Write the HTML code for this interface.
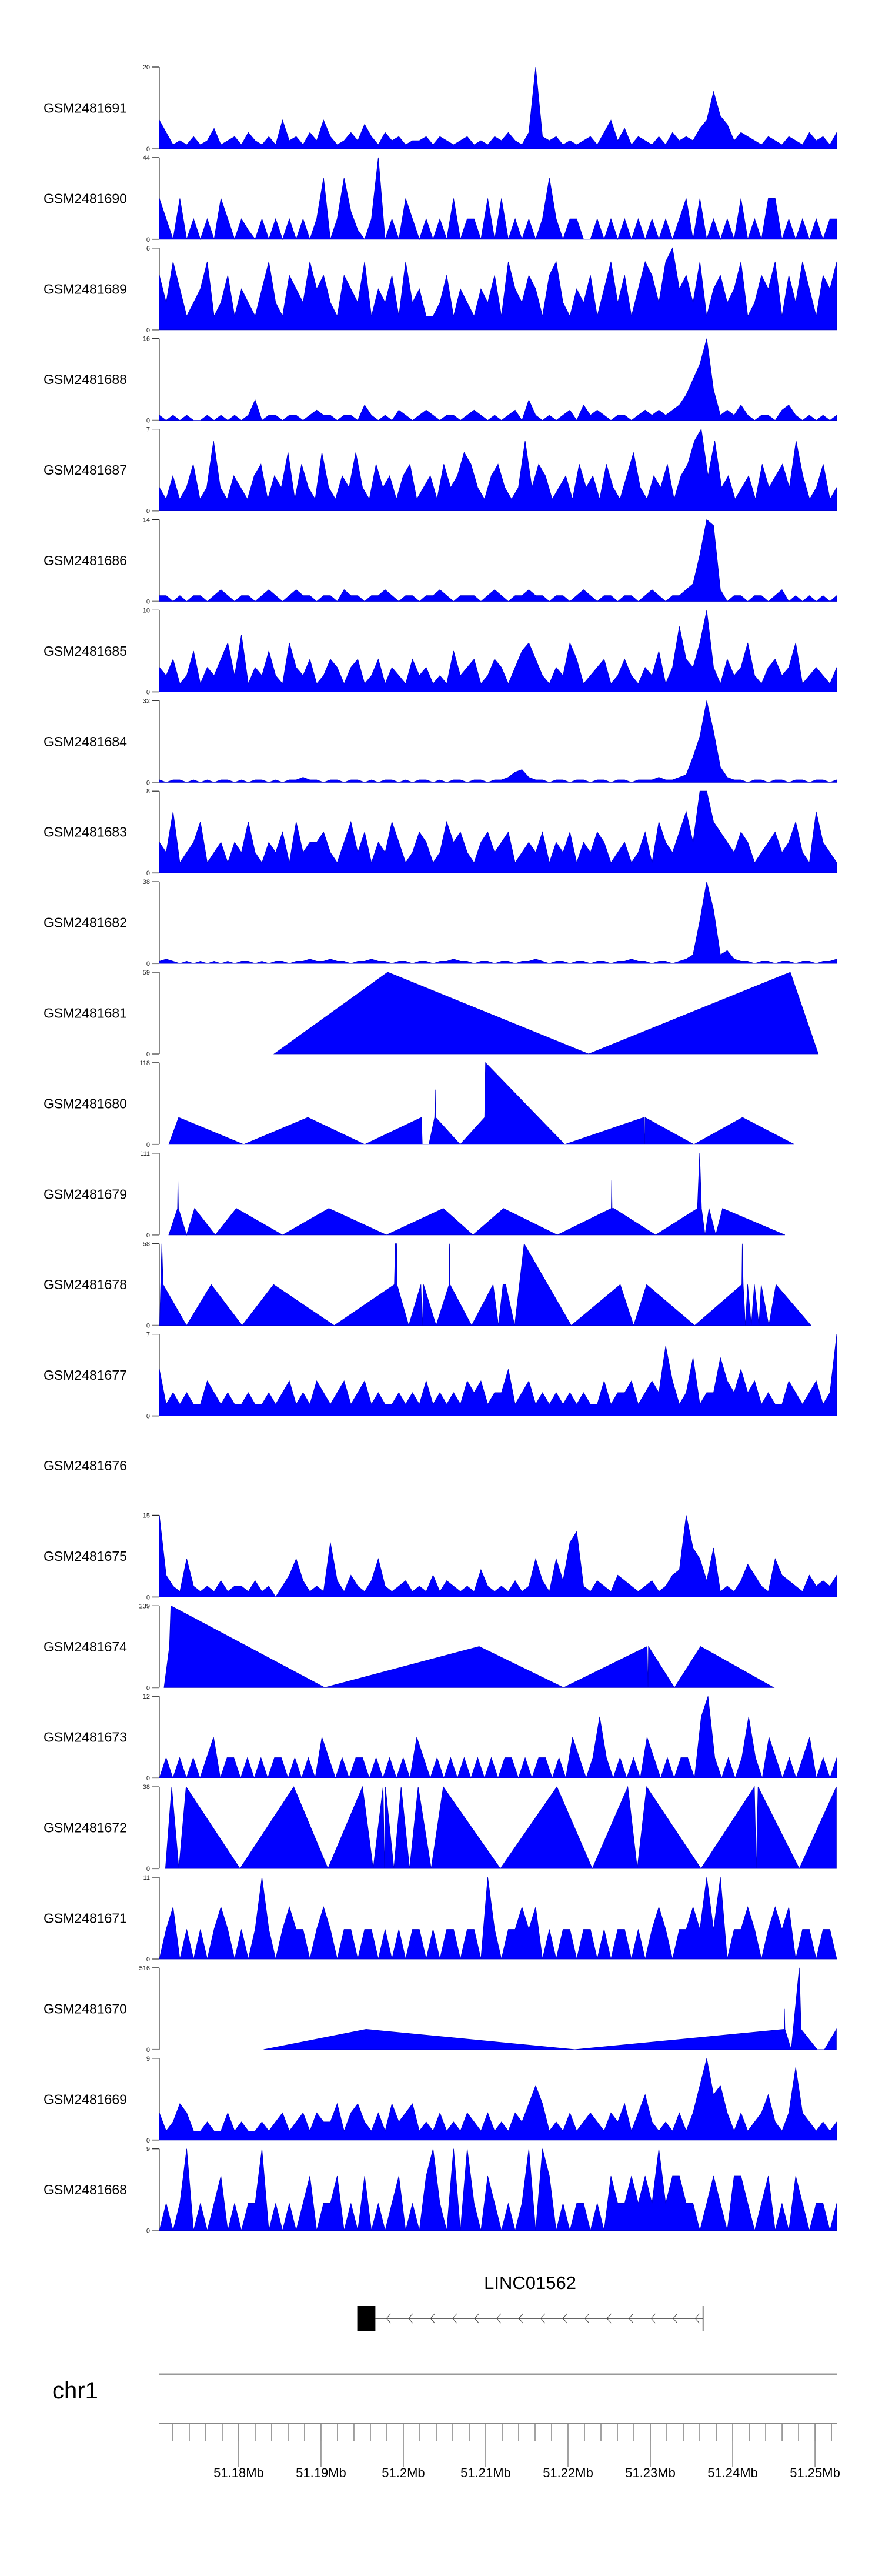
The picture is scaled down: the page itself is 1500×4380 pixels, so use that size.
<!DOCTYPE html>
<html><head><meta charset="utf-8"><style>
html,body{margin:0;padding:0;background:#fff;}
svg{display:block;font-family:"Liberation Sans",Arial,sans-serif;}
</style></head><body>
<svg id="chart" width="1500" height="4380" viewBox="0 0 1500 4380" xmlns="http://www.w3.org/2000/svg"></svg>
<script>
// ---- data ----
const trackNames = ["GSM2481691","GSM2481690","GSM2481689","GSM2481688","GSM2481687","GSM2481686","GSM2481685","GSM2481684","GSM2481683","GSM2481682","GSM2481681","GSM2481680","GSM2481679","GSM2481678","GSM2481677","GSM2481676","GSM2481675","GSM2481674","GSM2481673","GSM2481672","GSM2481671","GSM2481670","GSM2481669","GSM2481668"];
const trackMax = [20,44,6,16,7,14,10,32,8,38,59,118,111,58,7,null,15,239,12,38,11,516,9,9];
const axisTickKb = [180,190,200,210,220,230,240,250];
const axisTickLabels = ["51.18Mb","51.19Mb","51.2Mb","51.21Mb","51.22Mb","51.23Mb","51.24Mb","51.25Mb"];
const geneName = "LINC01562";
const geneStartKb = 194.4, geneEndKb = 236.4, exonEndKb = 196.6;

const v1691 = [7,4,1,2,1,3,1,2,5,1,2,3,1,4,2,1,3,1,7,2,3,1,4,2,7,3,1,2,4,2,6,3,1,4,2,3,1,2,2,3,1,3,2,1,2,3,1,2,1,3,2,4,2,1,4,20,3,2,3,1,2,1,2,3,1,4,7,2,5,1,3,2,1,3,1,4,2,3,2,5,7,14,8,6,2,4,3,2,1,3,2,1,3,2,1,4,2,3,1,4];
const v1690 = [22,11,0,22,0,11,0,11,0,22,11,0,11,5,0,11,0,11,0,11,0,11,0,11,33,0,11,33,15,5,0,11,44,0,11,0,22,11,0,11,0,11,0,22,0,11,11,0,22,0,22,0,11,0,11,0,11,33,11,0,11,11,0,0,11,0,11,0,11,0,11,0,11,0,11,0,11,22,0,22,0,11,0,11,0,22,0,11,0,22,22,0,11,0,11,0,11,0,11,11];
const v1689 = [4,2,5,3,1,2,3,5,1,2,4,1,3,2,1,3,5,2,1,4,3,2,5,3,4,2,1,4,3,2,5,1,3,2,4,1,5,2,3,1,1,2,4,1,3,2,1,3,2,4,1,5,3,2,4,3,1,4,5,2,1,3,2,4,1,3,5,2,4,1,3,5,4,2,5,6,3,4,2,5,1,3,4,2,3,5,1,2,4,3,5,1,4,2,5,3,1,4,3,5];
const v1688 = [1,0,1,0,1,0,0,1,0,1,0,1,0,1,4,0,1,1,0,1,1,0,1,2,1,1,0,1,1,0,3,1,0,1,0,2,1,0,1,2,1,0,1,1,0,1,2,1,0,1,0,1,2,0,4,1,0,1,0,1,2,0,3,1,2,1,0,1,1,0,1,2,1,2,1,2,3,5,8,11,16,6,1,2,1,3,1,0,1,1,0,2,3,1,0,1,0,1,0,1];
const v1687 = [2,1,3,1,2,4,1,2,6,2,1,3,2,1,3,4,1,3,2,5,1,4,2,1,5,2,1,3,2,5,2,1,4,2,3,1,3,4,1,2,3,1,4,2,3,5,4,2,1,3,4,2,1,2,6,2,4,3,1,2,3,1,4,2,3,1,4,2,1,3,5,2,1,3,2,4,1,3,4,6,7,3,6,2,3,1,2,3,1,4,2,3,4,2,6,3,1,2,4,1,2];
const v1686 = [1,1,0,1,0,1,1,0,1,2,1,0,1,1,0,1,2,1,0,1,2,1,1,0,1,1,0,2,1,1,0,1,1,2,1,0,1,1,0,1,1,2,1,0,1,1,1,0,1,2,1,0,1,1,2,1,1,0,1,1,0,1,2,1,0,1,1,0,1,1,0,1,2,1,0,1,1,2,3,8,14,13,2,0,1,1,0,1,1,0,1,2,0,1,0,1,0,1,0,1];
const v1685 = [3,2,4,1,2,5,1,3,2,4,6,2,7,1,3,2,5,2,1,6,3,2,4,1,2,4,3,1,3,4,1,2,4,1,3,2,1,4,2,3,1,2,1,5,2,3,4,1,2,4,3,1,3,5,6,4,2,1,3,2,6,4,1,2,3,4,1,2,4,2,1,3,2,5,1,3,8,4,3,6,10,3,1,4,2,3,6,2,1,3,4,2,3,6,1,2,3,2,1,3];
const v1684 = [1,0,1,1,0,1,0,1,0,1,1,0,1,0,1,1,0,1,0,1,1,2,1,1,0,1,1,0,1,1,0,1,0,1,1,0,1,0,1,1,0,1,0,1,1,0,1,1,0,1,1,2,4,5,2,1,1,0,1,1,0,1,1,0,1,1,0,1,1,0,1,1,1,2,1,1,2,3,10,18,32,20,6,2,1,1,0,1,1,0,1,1,0,1,1,0,1,1,0,1];
const v1683 = [3,2,6,1,2,3,5,1,2,3,1,3,2,5,2,1,3,2,4,1,5,2,3,3,4,2,1,3,5,2,4,1,3,2,5,3,1,2,4,3,1,2,5,3,4,2,1,3,4,2,3,4,1,2,3,2,4,1,3,2,4,1,3,2,4,3,1,2,3,1,2,4,1,5,3,2,4,6,3,8,8,5,4,3,2,4,3,1,2,3,4,2,3,5,2,1,6,3,2,1];
const v1682 = [1,2,1,0,1,0,1,0,1,0,1,0,1,1,0,1,0,1,1,0,1,1,2,1,1,2,1,1,0,1,1,2,1,1,0,1,1,0,1,1,0,1,1,2,1,1,0,1,1,0,1,1,0,1,1,2,1,0,1,1,0,1,1,0,1,1,0,1,1,2,1,1,0,1,1,0,1,2,4,20,38,25,4,6,2,1,1,0,1,1,0,1,1,0,1,1,0,1,1,2];
const v1677 = [4,1,2,1,2,1,1,3,2,1,2,1,1,2,1,1,2,1,2,3,1,2,1,3,2,1,2,3,1,2,3,1,2,1,1,2,1,2,1,3,1,2,1,2,1,3,2,3,1,2,2,4,1,2,3,1,2,1,2,1,2,1,2,1,1,3,1,2,2,3,1,2,3,2,6,3,1,2,5,1,2,2,5,3,2,4,2,3,1,2,1,1,3,2,1,2,3,1,2,7];
const v1676 = [];
const v1675 = [15,4,2,1,7,2,1,2,1,3,1,2,2,1,3,1,2,0,2,4,7,3,1,2,1,10,3,1,4,2,1,3,7,2,1,2,3,1,2,1,4,1,3,2,1,2,1,5,2,1,2,1,3,1,2,7,3,1,7,3,10,12,2,1,3,2,1,4,3,2,1,2,3,1,2,4,5,15,9,7,3,9,1,2,1,3,6,4,2,1,7,4,3,2,1,4,2,3,2,4];
const v1673 = [0,3,0,3,0,3,0,3,6,0,3,3,0,3,0,3,0,3,3,0,3,0,3,0,6,3,0,3,0,3,3,0,3,0,3,0,3,0,6,3,0,3,0,3,0,3,0,3,0,3,0,3,3,0,3,0,3,3,0,3,0,6,3,0,3,9,3,0,3,0,3,0,6,3,0,3,0,3,3,0,9,12,3,0,3,0,3,9,3,0,6,3,0,3,0,3,6,0,3,0,3];
const v1671 = [0,4,7,0,4,0,4,0,4,7,4,0,4,0,4,11,4,0,4,7,4,4,0,4,7,4,0,4,4,0,4,4,0,4,0,4,0,4,4,0,4,0,4,4,0,4,4,0,11,4,0,4,4,7,4,7,0,4,0,4,4,0,4,4,0,4,0,4,4,0,4,0,4,7,4,0,4,4,7,4,11,4,11,0,4,4,7,4,0,4,7,4,7,0,4,4,0,4,4,0];
const v1669 = [3,1,2,4,3,1,1,2,1,1,3,1,2,1,1,2,1,2,3,1,2,3,1,3,2,2,4,1,3,4,2,1,3,1,4,2,3,4,1,2,1,3,1,2,1,3,2,1,3,1,2,1,3,2,4,6,4,1,2,1,3,1,2,3,2,1,3,2,4,1,3,5,2,1,2,1,3,1,3,6,9,5,6,3,1,3,1,2,3,5,2,1,3,8,3,2,1,2,1,2];
const v1668 = [0,3,0,3,9,0,3,0,3,6,0,3,0,3,3,9,0,3,0,3,0,3,6,0,3,3,6,0,3,0,6,0,3,0,3,6,0,3,0,6,9,3,0,9,0,9,3,0,6,3,0,3,0,3,9,0,9,6,0,3,0,3,3,0,3,0,6,3,3,6,3,6,3,9,3,6,6,3,3,0,3,6,3,0,6,6,3,0,3,6,0,3,0,6,3,0,3,3,0,3];

// point-based tracks (positions in kb offset from 51.0 Mb)
const p1681 = [184.3,198.1,222.5,247.0,250.4];
const v1681 = [0,59,0,59,0];
const p1680 = [171.5,172.7,180.6,188.4,195.3,202.2,202.3,203.1,203.8,203.87,203.93,206.9,209.87,209.98,219.6,229.2,229.3,229.35,235.3,241.2,247.5];
const v1680 = [0,39,0,39,0,39,0,0,39,79,39,0,39,118,0,39,0,39,0,39,0];
const p1679 = [171.5,172.57,172.62,172.68,173.66,174.64,177.15,179.71,185.33,190.95,197.93,204.85,208.45,212.16,218.70,225.25,225.30,225.35,225.57,230.64,235.72,235.99,236.21,236.64,237.13,237.95,238.77,246.35];
const v1679 = [0,36,74,36,0,36,0,36,0,36,0,36,0,36,0,36,74,36,36,0,36,111,36,0,36,0,36,0];
const p1678 = [170.39,170.66,170.82,173.66,176.66,180.42,184.24,191.60,198.91,199.02,199.18,199.23,200.65,202.13,202.29,202.45,203.98,205.56,205.61,205.67,208.29,210.90,211.56,212.10,212.43,213.52,214.67,220.39,226.34,227.97,229.55,235.39,241.11,241.17,241.28,241.55,241.82,242.26,242.64,243.19,243.46,244.39,245.26,249.51];
const v1678 = [0,58,29,0,29,0,29,0,29,58,58,29,0,29,0,29,0,29,58,29,0,29,0,29,29,0,58,0,29,0,29,0,29,58,29,0,29,0,29,0,29,0,29,0];
const p1674 = [170.93,171.59,171.75,190.45,209.21,219.46,229.61,229.72,229.77,232.93,236.10,244.99];
const v1674 = [0,120,239,0,120,0,120,0,120,0,120,0];
const p1672 = [171.10,171.86,172.73,173.61,180.15,186.69,190.84,195.04,196.34,197.54,197.71,197.82,198.85,199.73,200.76,201.80,203.38,204.85,211.78,218.65,222.95,227.26,228.41,229.55,236.15,242.64,242.86,243.08,248.09,252.6];
const v1672 = [0,38,0,38,0,38,0,38,0,38,0,38,0,38,0,38,0,38,0,38,0,38,0,38,0,38,0,38,0,38];
const p1670 = [183.04,195.47,220.83,246.24,246.29,246.35,247.11,248.09,248.31,250.27,251.15,252.6];
const v1670 = [0,128,0,128,257,128,0,516,128,0,0,128];

const binnedSeries = {GSM2481691:v1691,GSM2481690:v1690,GSM2481689:v1689,GSM2481688:v1688,GSM2481687:v1687,GSM2481686:v1686,GSM2481685:v1685,GSM2481684:v1684,GSM2481683:v1683,GSM2481682:v1682,GSM2481677:v1677,GSM2481676:v1676,GSM2481675:v1675,GSM2481673:v1673,GSM2481671:v1671,GSM2481669:v1669,GSM2481668:v1668};
const pointSeries = {GSM2481681:[p1681,v1681],GSM2481680:[p1680,v1680],GSM2481679:[p1679,v1679],GSM2481678:[p1678,v1678],GSM2481674:[p1674,v1674],GSM2481672:[p1672,v1672],GSM2481670:[p1670,v1670]};

// ---- scales ----
const domStart = 170.36, domEnd = 252.64;
const X0 = 271, X1 = 1423;
function xScale(kb){ return X0 + (kb - domStart) / (domEnd - domStart) * (X1 - X0); }
const TRACK_TOP = 114, PITCH = 153.9, TRACK_H = 139;
function yScale(i, v, max){ const b = TRACK_TOP + i*PITCH + TRACK_H; return b - Math.min(v, max)/max*TRACK_H; }

const NS = "http://www.w3.org/2000/svg";
const svg = document.getElementById("chart");
function mk(tag, attrs, parent){ const e = document.createElementNS(NS, tag); for (const k in attrs) e.setAttribute(k, attrs[k]); (parent||svg).appendChild(e); return e; }

trackNames.forEach((name, i) => {
  const g = mk("g", {});
  
  
  const top = TRACK_TOP + i*PITCH, bot = top + TRACK_H;
  const lab = mk("text", {x:74, y:(top+bot)/2+8, "font-size":23, fill:"#000"}, g);
  lab.textContent = name;
  
  
  const max = trackMax[i];
  if (max === null) return;
  const ax = mk("line", {x1:X0, y1:top, x2:X0, y2:bot, stroke:"#888", "stroke-width":2}, g);
  
  
  mk("line", {x1:259, y1:top, x2:X0, y2:top, stroke:"#222", "stroke-width":1.2}, g);
  mk("line", {x1:259, y1:bot, x2:X0, y2:bot, stroke:"#888", "stroke-width":2}, g);
  const tt = mk("text", {x:255, y:top+4, "font-size":11, "text-anchor":"end", fill:"#222"}, g);
  tt.textContent = String(max);
  
  
  const tb = mk("text", {x:255, y:bot+4, "font-size":11, "text-anchor":"end", fill:"#222"}, g);
  tb.textContent = "0";
  
  

  let pts = [];
  if (binnedSeries[name]) {
    const vals = binnedSeries[name];
    const n = vals.length;
    if (!n) return;
    vals.forEach((v, k) => {
      const kb = domStart + k*(domEnd-domStart)/(n-1);
      pts.push([xScale(kb), yScale(i, v, max)]);
    });
  } else if (pointSeries[name]) {
    const [pos, vals] = pointSeries[name];
    pos.forEach((p, k) => pts.push([xScale(p), yScale(i, vals[k], max)]));
  }
  const s = pts.map(p => p[0].toFixed(1)+","+p[1].toFixed(1));
  const d = pts[0][0].toFixed(1)+","+bot+" "+s.join(" ")+" "+pts[pts.length-1][0].toFixed(1)+","+bot;
  const poly = mk("polygon", {points:d, fill:"#0000ff", stroke:"#0000c8", "stroke-width":0.8, "stroke-linejoin":"miter"}, g);
  
  
});

// ---- gene model ----
const gg = mk("g", {});


const gs = xScale(geneStartKb), ge = xScale(geneEndKb), ex = xScale(exonEndKb);
const gl = mk("text", {x:(gs+ge)/2, y:3892, "font-size":31, "text-anchor":"middle", fill:"#000"}, gg);
gl.textContent = geneName;


mk("line", {x1:ex, y1:3942, x2:ge, y2:3942, stroke:"#333", "stroke-width":1.5}, gg);
const exon = mk("rect", {x:gs, y:3921, width:ex-gs, height:42, fill:"#000"}, gg);


mk("line", {x1:ge, y1:3921, x2:ge, y2:3963, stroke:"#000", "stroke-width":1.5}, gg);
for (let cx = ex + 22; cx < ge - 5; cx += 37.5) {
  mk("polyline", {points:`${cx+4},3934 ${cx-3},3942 ${cx+4},3950`, fill:"none", stroke:"#444", "stroke-width":1}, gg);
}

// ---- genome axis ----
const ga = mk("g", {});


const chr = mk("text", {x:89, y:4078, "font-size":40, fill:"#000"}, ga);
chr.textContent = "chr1";


mk("line", {x1:X0, y1:4037, x2:X1, y2:4037, stroke:"#999", "stroke-width":3}, ga);
mk("line", {x1:X0, y1:4121, x2:X1, y2:4121, stroke:"#888", "stroke-width":2}, ga);
for (let kb = 172; kb <= 252.01; kb += 2) {
  const x = xScale(kb);
  mk("line", {x1:x, y1:4121, x2:x, y2:4151, stroke:"#444", "stroke-width":1}, ga);
}
axisTickKb.forEach((kb, k) => {
  const x = xScale(kb);
  mk("line", {x1:x, y1:4121, x2:x, y2:4195, stroke:"#444", "stroke-width":1}, ga);
  const t = mk("text", {x:x, y:4212, "font-size":22, "text-anchor":"middle", fill:"#000"}, ga);
  t.textContent = axisTickLabels[k];
  
  
});
</script>
</body></html>
